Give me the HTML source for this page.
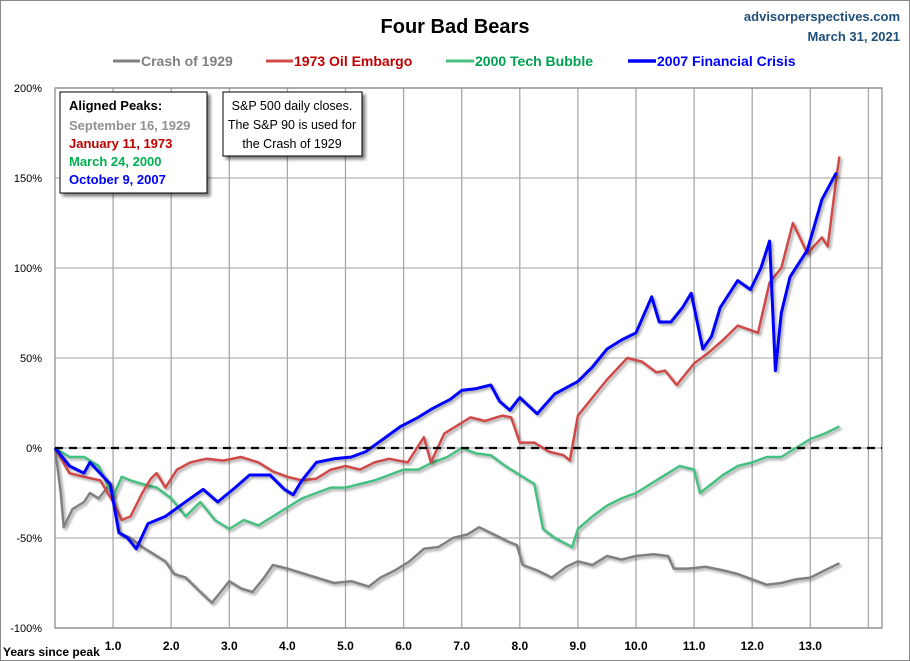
<!DOCTYPE html>
<html><head><meta charset="utf-8"><style>
body{margin:0;background:#fff;}
#wrap{position:relative;width:910px;height:661px;overflow:hidden;font-family:"Liberation Sans",Arial,sans-serif;}
</style></head><body>
<div id="wrap">
<svg id="svg" width="910" height="661" xmlns="http://www.w3.org/2000/svg">
<defs>
<filter id="sh" x="-5%" y="-5%" width="110%" height="110%"><feDropShadow dx="2" dy="2" stdDeviation="1.2" flood-color="#000" flood-opacity="0.35"/></filter>
<filter id="bsh" x="-10%" y="-10%" width="130%" height="130%"><feDropShadow dx="3" dy="3" stdDeviation="1.5" flood-color="#000" flood-opacity="0.5"/></filter>
</defs>
<rect x="0.5" y="0.5" width="909" height="660" fill="#fff" stroke="#888"/>
<text x="455" y="33" text-anchor="middle" font-size="20" font-weight="bold" fill="#000">Four Bad Bears</text>
<text x="900" y="21" text-anchor="end" font-size="13" font-weight="bold" fill="#1f4e79">advisorperspectives.com</text>
<text x="900" y="41" text-anchor="end" font-size="13" font-weight="bold" fill="#1f4e79">March 31, 2021</text>
<g id="legend" font-size="14" font-weight="bold">
<g><line x1="113" y1="61" x2="140" y2="61" stroke="#808080" stroke-width="3"/><text x="141" y="66" fill="#808080">Crash of 1929</text></g>
<g><line x1="266" y1="61" x2="293" y2="61" stroke="#d04a4a" stroke-width="3"/><text x="294" y="66" fill="#c00000">1973 Oil Embargo</text></g>
<g><line x1="446" y1="61" x2="474" y2="61" stroke="#45c080" stroke-width="3"/><text x="475" y="66" fill="#00a050">2000 Tech Bubble</text></g>
<g><line x1="628" y1="61" x2="656" y2="61" stroke="#0000ff" stroke-width="3.5"/><text x="657" y="66" fill="#0000ff">2007 Financial Crisis</text></g>
</g>
<g id="grid"></g>
<g id="axes"></g>
<g id="series"></g>
<g>
<rect x="60" y="92" width="147" height="101" fill="#fff" stroke="#000" filter="url(#bsh)"/>
<text x="69" y="110" font-size="13" font-weight="bold" fill="#000">Aligned Peaks:</text>
<text x="69" y="130" font-size="13" font-weight="bold" fill="#909090">September 16, 1929</text>
<text x="69" y="148" font-size="13" font-weight="bold" fill="#c00000">January 11, 1973</text>
<text x="69" y="166" font-size="13" font-weight="bold" fill="#00b050">March 24, 2000</text>
<text x="69" y="184" font-size="13" font-weight="bold" fill="#0000ff">October 9, 2007</text>
</g>
<g>
<rect x="223" y="92" width="139" height="64" fill="#fff" stroke="#000" filter="url(#bsh)"/>
<text x="292" y="110" text-anchor="middle" font-size="12.5" fill="#000">S&amp;P 500 daily closes.</text>
<text x="292" y="129" text-anchor="middle" font-size="12.5" fill="#000">The S&amp;P 90 is used for</text>
<text x="292" y="148" text-anchor="middle" font-size="12.5" fill="#000">the Crash of 1929</text>
</g>
</svg>
</div>
<script>
const yTicks=[200,150,100,50,0,-50,-100];
const yTickLabels=["200%","150%","100%","50%","0%","-50%","-100%"];
const xTicks=[1,2,3,4,5,6,7,8,9,10,11,12,13];
const xTickLabels=["1.0","2.0","3.0","4.0","5.0","6.0","7.0","8.0","9.0","10.0","11.0","12.0","13.0"];
const years1929=[0,0.1,0.15,0.3,0.5,0.6,0.75,0.95,1.1,1.3,1.5,1.65,1.9,2.05,2.25,2.5,2.7,2.85,3.0,3.2,3.4,3.6,3.75,4.0,4.2,4.5,4.8,5.1,5.4,5.6,5.85,6.1,6.35,6.6,6.85,7.1,7.3,7.55,7.8,7.95,8.05,8.3,8.55,8.8,9.0,9.25,9.5,9.75,10.0,10.3,10.55,10.65,10.9,11.2,11.5,11.75,12.0,12.25,12.5,12.75,13.0,13.25,13.5];
const values1929=[0,-25,-44,-34,-30,-25,-28,-20,-47,-50,-55,-58,-63,-70,-72,-80,-86,-80,-74,-78,-80,-72,-65,-67,-69,-72,-75,-74,-77,-72,-68,-63,-56,-55,-50,-48,-44,-48,-52,-54,-65,-68,-72,-66,-63,-65,-60,-62,-60,-59,-60,-67,-67,-66,-68,-70,-73,-76,-75,-73,-72,-68,-64];
const years1973=[0,0.25,0.5,0.78,1.0,1.15,1.3,1.5,1.65,1.75,1.9,2.1,2.33,2.6,2.9,3.2,3.5,3.75,4.0,4.25,4.5,4.75,5.0,5.25,5.5,5.75,6.07,6.35,6.47,6.7,7.0,7.15,7.4,7.7,7.85,8.0,8.25,8.5,8.75,8.86,9.0,9.25,9.5,9.85,10.1,10.35,10.5,10.7,11.0,11.25,11.5,11.75,12.1,12.3,12.5,12.7,12.95,13.2,13.3,13.45,13.5];
const values1973=[0,-14,-16,-18,-30,-40,-38,-25,-17,-14,-22,-12,-8,-6,-7,-5,-8,-13,-16,-18,-17,-12,-10,-12,-8,-6,-8,6,-8,8,14,17,15,18,17,3,3,-2,-4,-7,18,28,38,50,48,42,43,35,47,53,60,68,64,92,100,125,108,117,112,150,162];
const years2000=[0,0.25,0.5,0.75,1.0,1.15,1.3,1.5,1.75,2.0,2.25,2.5,2.75,3.0,3.25,3.5,3.75,4.0,4.25,4.5,4.75,5.0,5.25,5.5,5.75,6.0,6.25,6.5,6.75,7.0,7.25,7.5,7.75,8.0,8.25,8.4,8.6,8.9,9.0,9.25,9.5,9.75,10.0,10.25,10.5,10.75,11.0,11.1,11.3,11.5,11.75,12.0,12.25,12.5,12.75,13.0,13.25,13.5];
const values2000=[0,-5,-5,-10,-27,-16,-18,-20,-22,-28,-38,-30,-40,-45,-40,-43,-38,-33,-28,-25,-22,-22,-20,-18,-15,-12,-12,-8,-5,0,-3,-4,-10,-15,-20,-45,-50,-55,-45,-38,-32,-28,-25,-20,-15,-10,-12,-25,-20,-15,-10,-8,-5,-5,0,5,8,12];
const years2007=[0,0.25,0.5,0.6,0.95,1.1,1.25,1.4,1.6,1.9,2.2,2.55,2.8,3.1,3.35,3.7,3.95,4.1,4.25,4.5,4.8,5.1,5.35,5.65,5.95,6.25,6.5,6.8,7.0,7.25,7.5,7.65,7.83,8.0,8.3,8.6,9.0,9.25,9.5,9.75,10.0,10.27,10.4,10.6,10.8,10.95,11.15,11.3,11.45,11.75,11.97,12.15,12.3,12.4,12.5,12.65,12.95,13.2,13.45];
const values2007=[0,-10,-14,-8,-20,-47,-50,-56,-42,-38,-31,-23,-30,-22,-15,-15,-23,-26,-18,-8,-6,-5,-2,5,12,17,22,27,32,33,35,26,21,28,19,30,37,45,55,60,64,84,70,70,78,86,55,62,78,93,88,100,115,43,75,95,110,138,153];
const X0=55,X1=882,PX_PER_YEAR=58.1,Y_TOP=88,Y_BOT=628,V_TOP=200,V_BOT=-100;
const xs=t=>X0+t*PX_PER_YEAR;
const ys=v=>Y_TOP+(V_TOP-v)*(Y_BOT-Y_TOP)/(V_TOP-V_BOT);
const NS='http://www.w3.org/2000/svg';
function mk(tag,attrs,parent){const e=document.createElementNS(NS,tag);for(const k in attrs)e.setAttribute(k,attrs[k]);parent.appendChild(e);return e;}
const grid=document.getElementById('grid'),axes=document.getElementById('axes'),series=document.getElementById('series');
yTicks.forEach((v,i)=>{
  const l=mk('line',{x1:X0,x2:X1,y1:ys(v),y2:ys(v),stroke:'#c0c0c0','stroke-width':1.5},grid);
  
  
  const t=mk('text',{x:42,y:ys(v)+4,'text-anchor':'end','font-size':11,fill:'#000'},axes);
  t.textContent=yTickLabels[i];
  
  
});
for(let k=1;k*PX_PER_YEAR+X0<X1;k++){
  const l=mk('line',{x1:xs(k),x2:xs(k),y1:Y_TOP,y2:Y_BOT,stroke:'#a8a8a8','stroke-width':1.3},grid);
  
  
}
xTicks.forEach((v,i)=>{
  const t=mk('text',{x:xs(v),y:650,'text-anchor':'middle','font-size':12,'font-weight':'bold',fill:'#000'},axes);
  t.textContent=xTickLabels[i];
  
  
});
const fr=mk('rect',{x:X0,y:Y_TOP,width:X1-X0,height:Y_BOT-Y_TOP,fill:'none',stroke:'#909090','stroke-width':1.3},axes);


const xt=mk('text',{x:3,y:656,'font-size':12,'font-weight':'bold',fill:'#000'},axes);
xt.textContent='Years since peak';


const zl=mk('line',{x1:X0,x2:X1,y1:ys(0),y2:ys(0),stroke:'#000','stroke-width':2.2,'stroke-dasharray':'8,6'},axes);


function draw(yrs,vals,color,w,name){
  const d=yrs.map((t,i)=>(i?'L':'M')+xs(t).toFixed(1)+','+ys(vals[i]).toFixed(1)).join(' ');
  const p=mk('path',{d:d,fill:'none',stroke:color,'stroke-width':w,'stroke-linejoin':'round',filter:'url(#sh)'},series);
  
  
}
draw(years1929,values1929,'#808080',2.5,'series-crash-1929');
draw(years2000,values2000,'#45c080',2.5,'series-2000-tech-bubble');
draw(years1973,values1973,'#d04a4a',2.5,'series-1973-oil-embargo');
draw(years2007,values2007,'#0000ff',3,'series-2007-financial-crisis');
series.parentNode.appendChild(zl);
</script>
</body></html>
